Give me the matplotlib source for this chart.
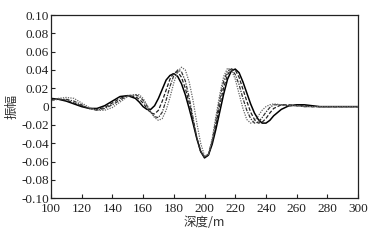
import matplotlib
matplotlib.use("Agg")
import matplotlib.pyplot as plt

depth = [100, 105, 110, 115, 120, 125, 130, 135, 140, 145, 150, 155,
         157.5, 160, 162.5, 165, 167.5, 170, 172.5, 175, 177.5, 180, 182.5,
         185, 187.5, 190, 192.5, 195, 197.5, 200, 202.5, 205, 207.5, 210,
         212.5, 215, 217.5, 220, 222.5, 225, 227.5, 230, 232.5, 235, 237.5,
         240, 242.5, 245, 250, 255, 260, 265, 270, 275, 280, 285, 290, 295, 300]

amp_solid = [0.009, 0.008, 0.006, 0.003, 0.000, -0.002, -0.002, 0.001, 0.006, 0.011, 0.012, 0.009,
             0.005, 0.000, -0.003, -0.003, 0.001, 0.009, 0.019, 0.029, 0.034, 0.036, 0.033,
             0.025, 0.013, -0.002, -0.018, -0.035, -0.049, -0.056, -0.053, -0.041, -0.024, -0.005,
             0.014, 0.030, 0.039, 0.041, 0.037, 0.027, 0.015, 0.003, -0.007, -0.014, -0.018,
             -0.018, -0.015, -0.010, -0.003, 0.001, 0.002, 0.002, 0.001, 0.000, 0.000, 0.000, 0.000, 0.000, 0.000]

amp_dashed = [0.008, 0.008, 0.007, 0.004, 0.001, -0.002, -0.003, -0.001, 0.004, 0.009, 0.012, 0.011,
              0.008, 0.004, -0.002, -0.007, -0.008, -0.004, 0.006, 0.018, 0.030, 0.037, 0.038,
              0.032, 0.020, 0.004, -0.015, -0.034, -0.049, -0.055, -0.053, -0.039, -0.019, 0.002,
              0.021, 0.035, 0.041, 0.040, 0.032, 0.019, 0.006, -0.006, -0.014, -0.018, -0.017,
              -0.013, -0.007, -0.002, 0.002, 0.002, 0.001, 0.001, 0.000, 0.000, 0.000, 0.000, 0.000, 0.000, 0.000]

amp_dashdot = [0.007, 0.008, 0.008, 0.006, 0.002, -0.002, -0.004, -0.002, 0.002, 0.007, 0.012, 0.013,
               0.011, 0.007, 0.001, -0.006, -0.011, -0.012, -0.006, 0.007, 0.022, 0.034, 0.040,
               0.038, 0.028, 0.010, -0.012, -0.034, -0.049, -0.055, -0.052, -0.037, -0.014, 0.009,
               0.028, 0.039, 0.041, 0.035, 0.024, 0.009, -0.004, -0.013, -0.018, -0.017, -0.012,
               -0.006, -0.001, 0.002, 0.002, 0.001, 0.001, 0.000, 0.000, 0.000, 0.000, 0.000, 0.000, 0.000, 0.000]

amp_dotted = [0.006, 0.009, 0.010, 0.009, 0.004, -0.001, -0.004, -0.004, -0.001, 0.005, 0.011, 0.013,
              0.013, 0.009, 0.002, -0.006, -0.012, -0.015, -0.013, -0.004, 0.010, 0.026, 0.038,
              0.043, 0.040, 0.027, 0.007, -0.018, -0.040, -0.054, -0.052, -0.035, -0.010, 0.014,
              0.033, 0.042, 0.040, 0.030, 0.014, -0.002, -0.014, -0.018, -0.016, -0.010, -0.004,
              0.000, 0.002, 0.003, 0.002, 0.001, 0.001, 0.000, 0.000, 0.000, 0.000, 0.000, 0.000, 0.000, 0.000]

yticks = [-0.10, -0.08, -0.06, -0.04, -0.02, 0, 0.02, 0.04, 0.06, 0.08, 0.10]
ytick_labels = ["-0.10", "-0.08", "-0.06", "-0.04", "-0.02", "0", "0.02", "0.04", "0.06", "0.08", "0.10"]
xticks = [100, 120, 140, 160, 180, 200, 220, 240, 260, 280, 300]

serif = ["Liberation Serif", "DejaVu Serif"]
cjk = ["Noto Sans CJK SC", "DejaVu Sans"]

fig = plt.figure(figsize=(3.77, 2.40), dpi=100)
ax = fig.add_axes([0.135, 0.174, 0.815, 0.7635])

ax.plot(depth, amp_solid, color="black", lw=1.1, ls="-")
ax.plot(depth, amp_dashed, color="#222222", lw=0.9, ls=(0, (3, 1.5)))
ax.plot(depth, amp_dashdot, color="#333333", lw=0.9, ls=(0, (3, 1, 1, 1)))
ax.plot(depth, amp_dotted, color="#666666", lw=0.9, ls=(0, (1, 1)))

ax.set_xlim(100, 300)
ax.set_ylim(-0.10, 0.10)
ax.set_xticks(xticks)
ax.set_xticklabels([str(t) for t in xticks], fontfamily=serif, fontsize=9.5)
ax.set_yticks(yticks)
ax.set_yticklabels(ytick_labels, fontfamily=serif, fontsize=9.5)
ax.tick_params(direction="in", length=3, width=0.8, top=False, right=False, colors="#222222")
ax.tick_params(axis="x", pad=3.5)
ax.tick_params(axis="y", pad=1.5)
for s in ax.spines.values():
    s.set_linewidth(0.9)
    s.set_color("#222222")

ax.set_xlabel("深度/m", fontfamily=cjk, fontsize=9, labelpad=1, color="#333333")
ax.set_ylabel("振幅", fontfamily=cjk, fontsize=9, labelpad=2, color="#333333")

fig.savefig("out.png", dpi=100)
